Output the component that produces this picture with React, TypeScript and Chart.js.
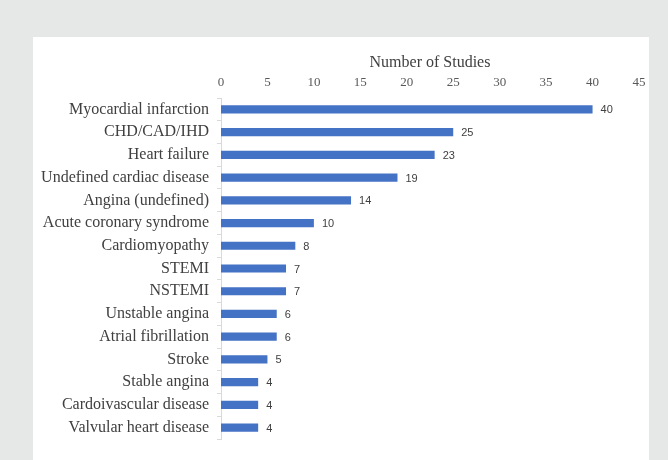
import React, { useEffect, useRef } from "react";
import { Chart, registerables } from "chart.js";

Chart.register(...registerables);

const categories = [
  "Myocardial infarction",
  "CHD/CAD/IHD",
  "Heart failure",
  "Undefined cardiac disease",
  "Angina (undefined)",
  "Acute coronary syndrome",
  "Cardiomyopathy",
  "STEMI",
  "NSTEMI",
  "Unstable angina",
  "Atrial fibrillation",
  "Stroke",
  "Stable angina",
  "Cardoivascular disease",
  "Valvular heart disease",
];
const studies = [40, 25, 23, 19, 14, 10, 8, 7, 7, 6, 6, 5, 4, 4, 4];
const axisTitle = "Number of Studies";
const xMin = 0;
const xMax = 45;
const xStep = 5;

const backgroundPlugin = {
  id: "panelBg",
  beforeDraw(chart: any) {
    const { ctx, width, height } = chart;
    ctx.save();
    ctx.fillStyle = "#e6e7e7";
    ctx.fillRect(0, 0, width, height);
    ctx.fillStyle = "#ffffff";
    ctx.fillRect(33, 37, 616, height - 37);
    ctx.restore();
  },
};

const valueLabelPlugin = {
  id: "valueLabels",
  afterDatasetsDraw(chart: any) {
    const { ctx } = chart;
    const meta = chart.getDatasetMeta(0);
    const data = chart.data.datasets[0].data;
    ctx.save();
    ctx.fillStyle = "#404040";
    ctx.font = "11px 'Liberation Sans', Arial, sans-serif";
    ctx.textAlign = "left";
    ctx.textBaseline = "middle";
    meta.data.forEach((bar: any, i: number) => {
      ctx.fillText(String(data[i]), bar.x + 8, bar.y + 1);
    });
    ctx.restore();
  },
};

export default function App() {
  const canvasRef = useRef<HTMLCanvasElement | null>(null);

  useEffect(() => {
    document.body.style.margin = "0";
    const canvas = canvasRef.current;
    if (!canvas) return;
    const chart = new Chart(canvas, {
      type: "bar",
      data: {
        labels: categories,
        datasets: [
          {
            data: studies,
            backgroundColor: "#4472c4",
            borderWidth: 0,
            barPercentage: 0.36,
            categoryPercentage: 1,
          },
        ],
      },
      options: {
        indexAxis: "y",
        responsive: false,
        animation: false,
        devicePixelRatio: 1,
        layout: { padding: { left: 0, right: 29, top: 0, bottom: 21 } },
        plugins: {
          legend: { display: false },
          tooltip: { enabled: false },
        },
        scales: {
          x: {
            position: "top",
            min: xMin,
            max: xMax,
            ticks: {
              stepSize: xStep,
              color: "#595959",
              font: { family: "'Liberation Serif', 'Times New Roman', serif", size: 13 },
              padding: 8,
            },
            grid: { display: false, drawTicks: false },
            border: { display: false },
            title: {
              display: true,
              text: axisTitle,
              color: "#404040",
              font: { family: "'Liberation Serif', 'Times New Roman', serif", size: 16 },
              padding: { top: 53, bottom: 0 },
            },
            afterFit(scale: any) {
              scale.height = 98;
            },
          },
          y: {
            ticks: {
              color: "#404040",
              font: { family: "'Liberation Serif', 'Times New Roman', serif", size: 16 },
              padding: 8,
              autoSkip: false,
            },
            grid: {
              drawOnChartArea: false,
              offset: true,
              tickLength: 4,
              color: "#d9d9d9",
            },
            border: { color: "#d9d9d9" },
            afterFit(scale: any) {
              scale.width = 221;
            },
          },
        },
      },
      plugins: [backgroundPlugin, valueLabelPlugin],
    } as any);
    return () => chart.destroy();
  }, []);

  return <canvas ref={canvasRef} width={668} height={460} style={{ display: "block" }} />;
}
